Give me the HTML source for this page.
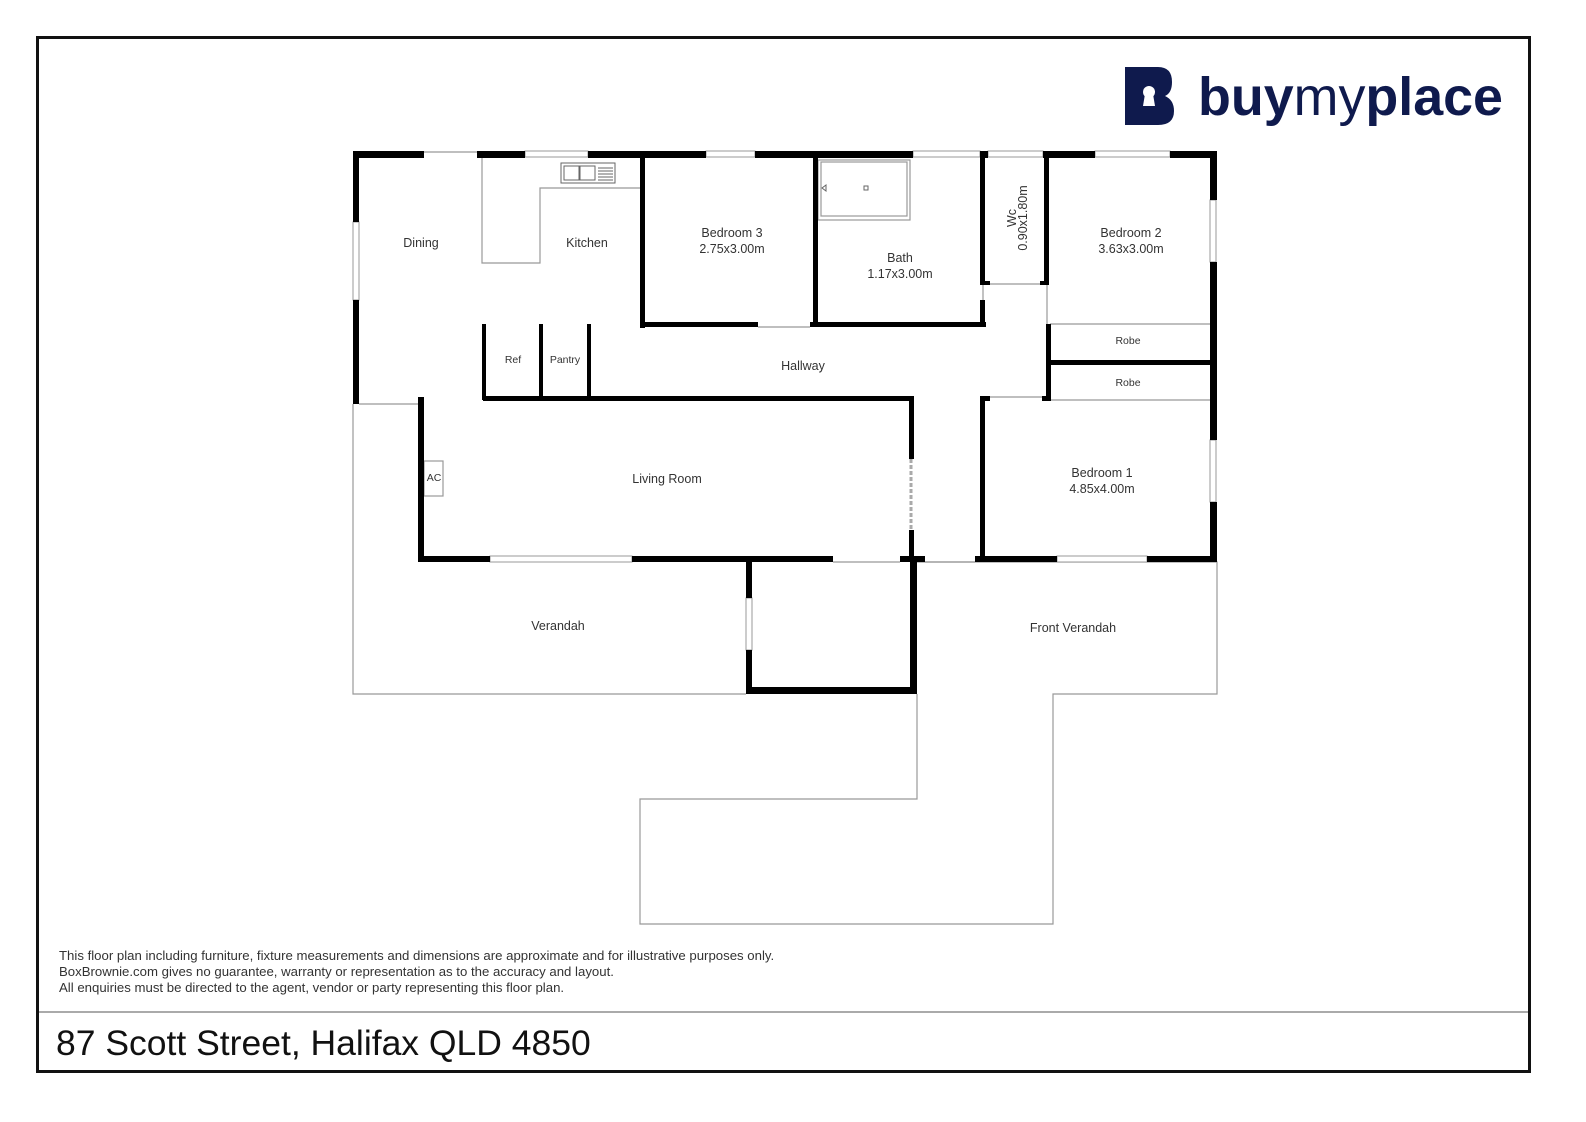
<!DOCTYPE html>
<html><head><meta charset="utf-8"><style>
html,body{margin:0;padding:0;background:#fff;overflow:hidden;width:1586px;height:1122px;}
svg{display:block;}
text{font-family:"Liberation Sans",Arial,sans-serif;}
</style></head><body>
<svg width="1586" height="1122" viewBox="0 0 1586 1122" xmlns="http://www.w3.org/2000/svg">
<rect x="0" y="0" width="1586" height="1122" fill="#fff"/>
<rect x="37.5" y="37.5" width="1492" height="1034" fill="none" stroke="#111" stroke-width="3"/>
<line x1="39" y1="1012" x2="1528" y2="1012" stroke="#aaa" stroke-width="2"/>
<text x="56" y="1055" font-size="35.5" fill="#111">87 Scott Street, Halifax QLD 4850</text>
<g font-size="13.2" fill="#333">
<text x="59" y="960">This floor plan including furniture, fixture measurements and dimensions are approximate and for illustrative purposes only.</text>
<text x="59" y="976">BoxBrownie.com gives no guarantee, warranty or representation as to the accuracy and layout.</text>
<text x="59" y="992">All enquiries must be directed to the agent, vendor or party representing this floor plan.</text>
</g>
<!-- logo -->
<g fill="#0f1a4d">
<path d="M1125 67 H1158 Q1172 67 1172 82 Q1172 93 1165 96 Q1174 100 1174 111 Q1174 125 1158 125 H1125 Z"/>
</g>
<circle cx="1149" cy="92" r="6" fill="#fff"/>
<path d="M1145 94 L1153 94 L1155 106 L1143 106 Z" fill="#fff"/>
<text x="1198" y="115" font-size="54" font-weight="bold" fill="#0f1a4d" textLength="305" lengthAdjust="spacingAndGlyphs">buy<tspan font-weight="normal">my</tspan>place</text>

<!-- thin gray outlines -->
<g fill="none" stroke="#999" stroke-width="1.2">
<polyline points="353,404 353,694 746,694"/>
<polyline points="917,562 1217,562 1217,694 1053,694 1053,924 640,924 640,799 917,799 917,694"/>
<line x1="359" y1="404" x2="418" y2="404"/>
<line x1="424" y1="152" x2="477" y2="152"/>
<line x1="833" y1="562" x2="900" y2="562"/>
<line x1="925" y1="562" x2="975" y2="562"/>
<line x1="758" y1="327" x2="810" y2="327"/>
<line x1="986" y1="284" x2="1044" y2="284"/>
<line x1="1047" y1="284" x2="1047" y2="324"/>
<line x1="1050" y1="324" x2="1210" y2="324"/>
<line x1="1050" y1="400" x2="1210" y2="400"/>
<line x1="990" y1="397" x2="1042" y2="397"/>
<line x1="983" y1="284" x2="983" y2="300"/>
<polyline points="482,158 482,263 540,263 540,188 640,188"/>
<rect x="818" y="160" width="92" height="60"/>
<rect x="821" y="162" width="86" height="54"/>
<rect x="424" y="461" width="19" height="35"/>
</g>
<g fill="none" stroke="#666" stroke-width="1">
<rect x="561" y="163" width="54" height="20"/>
<rect x="564" y="166" width="15" height="14"/>
<rect x="580" y="166" width="15" height="14"/>
<line x1="598" y1="168" x2="613" y2="168"/><line x1="598" y1="171" x2="613" y2="171"/><line x1="598" y1="174" x2="613" y2="174"/><line x1="598" y1="177" x2="613" y2="177"/><line x1="598" y1="180" x2="613" y2="180"/>
<path d="M826 185 L822 188 L826 191 Z"/>
<rect x="864" y="186" width="4" height="4"/>
</g>
<g fill="#fff" stroke="#999" stroke-width="1">
<rect x="525" y="151" width="63" height="6"/>
<rect x="706" y="151" width="49" height="6"/>
<rect x="913" y="151" width="67" height="6"/>
<rect x="988" y="151" width="55" height="6"/>
<rect x="1095" y="151" width="75" height="6"/>
<rect x="353" y="222" width="6" height="78"/>
<rect x="1210" y="200" width="6" height="62"/>
<rect x="1210" y="440" width="6" height="62"/>
<rect x="490" y="556" width="142" height="6"/>
<rect x="1057" y="556" width="90" height="6"/>
<rect x="746" y="598" width="6" height="52"/>
</g>
<line x1="911" y1="459" x2="911" y2="530" stroke="#aaa" stroke-width="3" stroke-dasharray="4,2"/>
<g fill="#000">
<rect x="353" y="151" width="71" height="7"/>
<rect x="477" y="151" width="48" height="7"/>
<rect x="588" y="151" width="118" height="7"/>
<rect x="755" y="151" width="158" height="7"/>
<rect x="980" y="151" width="8" height="7"/>
<rect x="1043" y="151" width="52" height="7"/>
<rect x="1170" y="151" width="47" height="7"/>
<rect x="353" y="151" width="6" height="71"/>
<rect x="353" y="300" width="6" height="104"/>
<rect x="1210" y="151" width="7" height="49"/>
<rect x="1210" y="262" width="7" height="178"/>
<rect x="1210" y="502" width="7" height="60"/>
<rect x="418" y="397" width="6" height="165"/>
<rect x="418" y="556" width="72" height="6"/>
<rect x="632" y="556" width="201" height="6"/>
<rect x="900" y="556" width="25" height="6"/>
<rect x="975" y="556" width="82" height="6"/>
<rect x="1147" y="556" width="70" height="6"/>
<rect x="483" y="396" width="431" height="5"/>
<rect x="909" y="396" width="5" height="63"/>
<rect x="909" y="530" width="5" height="30"/>
<rect x="910" y="556" width="7" height="138"/>
<rect x="746" y="562" width="6" height="36"/>
<rect x="746" y="650" width="6" height="44"/>
<rect x="746" y="687" width="171" height="7"/>
<rect x="482" y="324" width="4" height="76"/>
<rect x="539" y="324" width="4" height="76"/>
<rect x="587" y="324" width="4" height="76"/>
<rect x="640" y="158" width="5" height="170"/>
<rect x="640" y="322" width="118" height="5"/>
<rect x="810" y="322" width="176" height="5"/>
<rect x="813" y="158" width="5" height="169"/>
<rect x="980" y="158" width="5" height="127"/>
<rect x="980" y="300" width="5" height="27"/>
<rect x="980" y="281" width="10" height="4"/>
<rect x="1044" y="158" width="5" height="127"/>
<rect x="1040" y="281" width="9" height="4"/>
<rect x="1046" y="324" width="5" height="76"/>
<rect x="1046" y="360" width="171" height="5"/>
<rect x="980" y="396" width="10" height="5"/>
<rect x="1042" y="396" width="9" height="5"/>
<rect x="980" y="396" width="5" height="166"/>
</g>
<g font-size="12.5" fill="#333" text-anchor="middle">
<text x="421" y="247">Dining</text>
<text x="587" y="247">Kitchen</text>
<text x="732" y="237">Bedroom 3</text>
<text x="732" y="253">2.75x3.00m</text>
<text x="900" y="262">Bath</text>
<text x="900" y="278">1.17x3.00m</text>
<text x="1131" y="237">Bedroom 2</text>
<text x="1131" y="253">3.63x3.00m</text>
<text x="803" y="370">Hallway</text>
<text x="1102" y="477">Bedroom 1</text>
<text x="1102" y="493">4.85x4.00m</text>
<text x="667" y="483">Living Room</text>
<text x="558" y="630">Verandah</text>
<text x="1073" y="632">Front Verandah</text>
<text x="1016" y="218" transform="rotate(-90 1016 218)">Wc</text>
<text x="1027" y="218" transform="rotate(-90 1027 218)">0.90x1.80m</text>
</g>
<g font-size="10.5" fill="#333" text-anchor="middle">
<text x="513" y="363">Ref</text>
<text x="565" y="363">Pantry</text>
<text x="1128" y="344">Robe</text>
<text x="1128" y="386">Robe</text>
<text x="434" y="481">AC</text>
</g>
</svg>
</body></html>
